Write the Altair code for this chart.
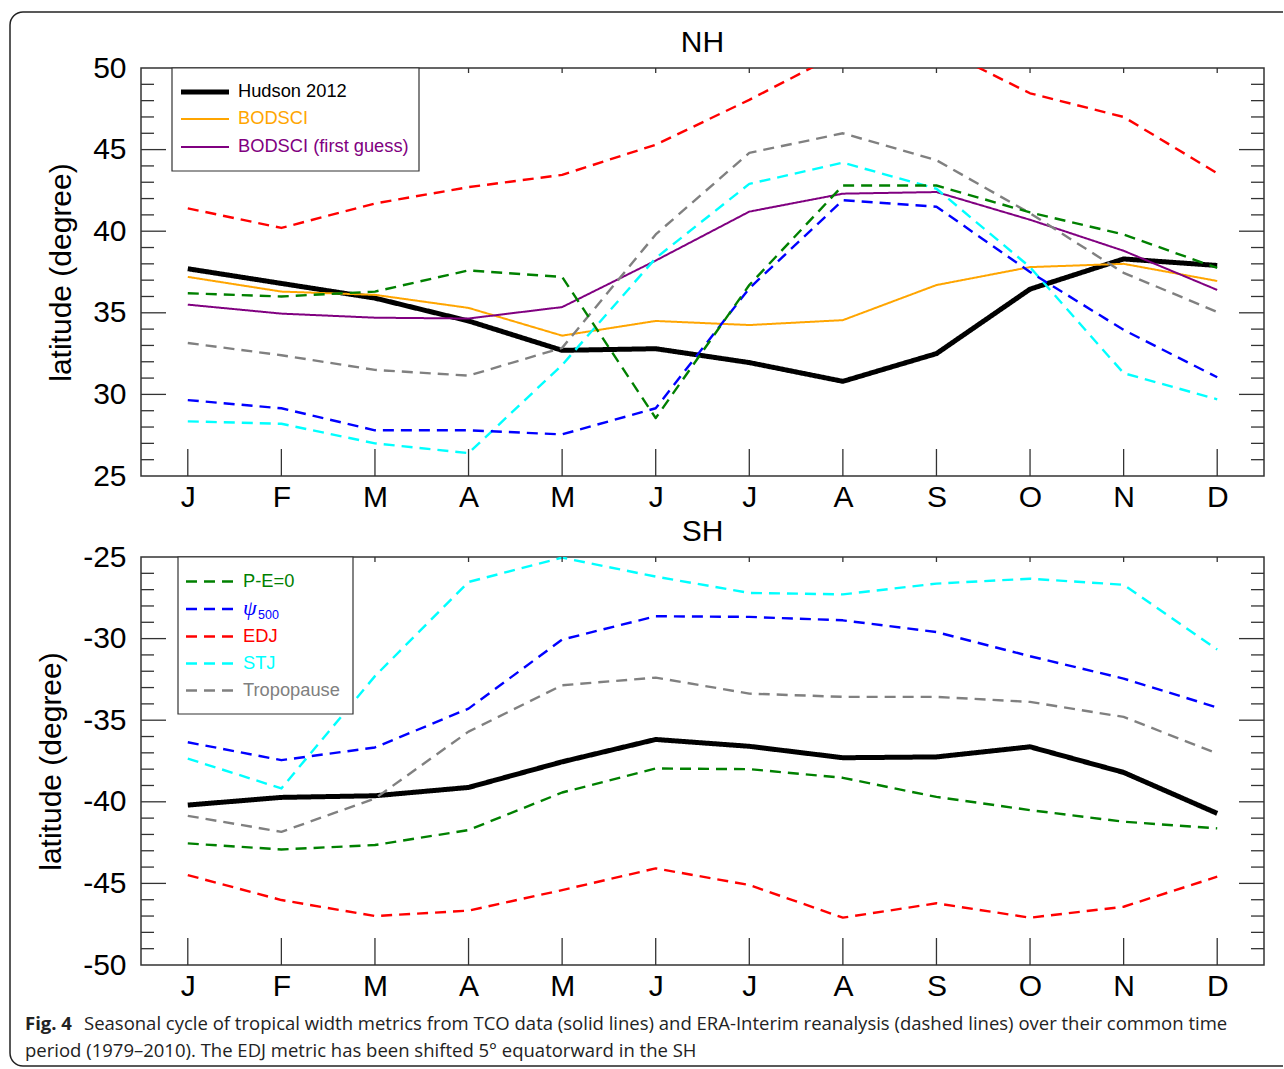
import altair as alt
import pandas as pd

# ---------------- data ----------------
months = list(range(1, 13))
month_letters = ["J", "F", "M", "A", "M", "J", "J", "A", "S", "O", "N", "D"]

# Northern Hemisphere
hudson_nh = [37.7, 36.8, 35.9, 34.5, 32.7, 32.8, 31.95, 30.8, 32.5, 36.45, 38.3, 37.9]
bodsci_nh = [37.2, 36.3, 36.1, 35.3, 33.6, 34.5, 34.25, 34.55, 36.7, 37.8, 38.0, 36.95]
firstguess_nh = [35.5, 34.95, 34.7, 34.65, 35.35, 38.2, 41.2, 42.3, 42.4, 40.7, 38.8, 36.4]
pe_nh = [36.2, 36.0, 36.3, 37.6, 37.2, 28.55, 36.7, 42.8, 42.8, 41.15, 39.8, 37.75]
psi_nh = [29.65, 29.15, 27.8, 27.8, 27.55, 29.15, 36.5, 41.9, 41.5, 37.5, 33.95, 31.05]
edj_nh = [41.4, 40.2, 41.7, 42.7, 43.45, 45.3, 48.05, 51.0, 51.3, 48.45, 47.0, 43.55]
stj_nh = [28.35, 28.2, 27.0, 26.4, 31.8, 38.35, 42.9, 44.2, 42.6, 37.8, 31.3, 29.7]
trop_nh = [33.15, 32.4, 31.5, 31.15, 32.85, 39.8, 44.8, 46.0, 44.35, 41.1, 37.45, 35.05]

# Southern Hemisphere
hudson_sh = [-40.2, -39.73, -39.63, -39.12, -37.55, -36.18, -36.6, -37.3, -37.25, -36.63, -38.2, -40.71]
pe_sh = [-42.55, -42.92, -42.65, -41.73, -39.43, -37.96, -38.0, -38.53, -39.7, -40.51, -41.22, -41.63]
psi_sh = [-36.35, -37.45, -36.67, -34.29, -30.06, -28.63, -28.67, -28.88, -29.6, -31.08, -32.45, -34.22]
edj_sh = [-44.49, -46.02, -47.0, -46.67, -45.41, -44.08, -45.1, -47.1, -46.22, -47.1, -46.43, -44.59]
stj_sh = [-37.35, -39.18, -32.3, -26.53, -25.04, -26.2, -27.2, -27.29, -26.63, -26.33, -26.7, -30.67]
trop_sh = [-40.86, -41.84, -39.8, -35.7, -32.86, -32.39, -33.37, -33.57, -33.57, -33.88, -34.8, -37.04]

nh_y_labels = [25, 30, 35, 40, 45, 50]
sh_y_labels = [-50, -45, -40, -35, -30, -25]

nh_legend_labels = ["Hudson 2012", "BODSCI", "BODSCI (first guess)"]
sh_legend_labels = ["P-E=0", "ψ500", "EDJ", "STJ", "Tropopause"]

caption_bold = "Fig. 4"
caption_line1 = ("Seasonal cycle of tropical width metrics from TCO data (solid lines) and ERA-Interim "
                 "reanalysis (dashed lines) over their common time")
caption_line2 = "period (1979–2010). The EDJ metric has been shifted 5° equatorward in the SH"

# ---------------- styles ----------------
FONT = "Liberation Sans, Arial, Helvetica, sans-serif"
CAP_FONT = "Open Sans, Lato, sans-serif"
AX = "#333333"
DASH = [11, 7]
style = {
    "Hudson 2012": ("#000000", [1, 0], 5.0),
    "BODSCI": ("#FFA500", [1, 0], 2.0),
    "BODSCI (first guess)": ("#800080", [1, 0], 2.0),
    "P-E=0": ("#008000", DASH, 2.4),
    "ψ500": ("#0000FF", DASH, 2.4),
    "EDJ": ("#FF0000", DASH, 2.4),
    "STJ": ("#00FFFF", DASH, 2.4),
    "Tropopause": ("#808080", DASH, 2.4),
}

W, H = 1123, 408
label_expr = "[" + ",".join("'%s'" % m for m in month_letters) + "][datum.value - 1]"


def panel(series, domain, y_labels, title, legend_labels, box, rows, sym_x, txt_x):
    x_scale = alt.Scale(domain=[0.5, 12.5], nice=False, zero=False)
    y_scale = alt.Scale(domain=domain, nice=False, zero=False)
    x_axis = alt.Axis(values=months, labelExpr=label_expr, labelFontSize=30, labelPadding=6,
                      ticks=False, domain=False, grid=False, title=None, labelColor="black",
                      labelFont=FONT)
    y_axis = alt.Axis(values=y_labels, labelExpr="'' + datum.value", labelFontSize=30,
                      labelPadding=15, ticks=False, domain=False, grid=False,
                      title="latitude (degree)", titleFontSize=30, titleFontWeight="normal",
                      titlePadding=16, titleColor="black", labelColor="black",
                      labelFont=FONT, titleFont=FONT)

    def X():
        return alt.X("month:Q", scale=x_scale, axis=x_axis)

    def Y():
        return alt.Y("value:Q", scale=y_scale, axis=y_axis)

    layers = []
    for name, vals in series:
        col, dash, sw = style[name]
        df = pd.DataFrame({"month": months, "value": vals})
        layers.append(alt.Chart(df).mark_line(
            clip=True, color=col, strokeDash=dash, strokeWidth=sw, strokeCap="butt", strokeJoin="round"
        ).encode(x=X(), y=Y()))

    xt = pd.DataFrame({"month": months})
    layers.append(alt.Chart(xt).mark_rule(color=AX, strokeWidth=1.3).encode(
        x=X(), y=alt.value(H), y2=alt.value(H - 27)))
    layers.append(alt.Chart(xt).mark_rule(color=AX, strokeWidth=1.3).encode(
        x=X(), y=alt.value(0), y2=alt.value(5)))
    lo, hi = min(domain), max(domain)
    major = [v for v in y_labels if lo < v < hi]
    minor = [v for v in range(int(lo) + 1, int(hi)) if v not in major]
    for vals, ln in ((major, 25), (minor, 13)):
        yt = pd.DataFrame({"value": vals})
        layers.append(alt.Chart(yt).mark_rule(color=AX, strokeWidth=1.3).encode(
            y=Y(), x=alt.value(0), x2=alt.value(ln)))
        layers.append(alt.Chart(yt).mark_rule(color=AX, strokeWidth=1.3).encode(
            y=Y(), x=alt.value(W), x2=alt.value(W - ln)))

    # panel title
    layers.append(alt.Chart(pd.DataFrame({"t": [title]})).mark_text(
        align="center", baseline="alphabetic", fontSize=30, font=FONT, color="black").encode(
        x=alt.value(W / 2), y=alt.value(-16), text="t:N"))

    # legend
    one = pd.DataFrame({"k": [0]})
    layers.append(alt.Chart(one).mark_rect(fill="white", stroke=AX, strokeWidth=1.2).encode(
        x=alt.value(box[0]), x2=alt.value(box[1]), y=alt.value(box[2]), y2=alt.value(box[3])))
    for lab, ry in zip(legend_labels, rows):
        col, dash, sw = style[lab]
        layers.append(alt.Chart(one).mark_rule(color=col, strokeDash=dash, strokeWidth=sw, strokeCap="butt").encode(
            x=alt.value(sym_x[0]), x2=alt.value(sym_x[1]), y=alt.value(ry)))
        if lab == "ψ500":
            layers.append(alt.Chart(pd.DataFrame({"t": [lab[0]]})).mark_text(
                align="left", baseline="middle", fontSize=22, font="Liberation Serif, DejaVu Serif, serif",
                fontStyle="italic", color=col).encode(
                x=alt.value(txt_x), y=alt.value(ry - 1), text="t:N"))
            layers.append(alt.Chart(pd.DataFrame({"t": [lab[1:]]})).mark_text(
                align="left", baseline="middle", fontSize=12.5, font=FONT, color=col).encode(
                x=alt.value(txt_x + 15), y=alt.value(ry + 6), text="t:N"))
        else:
            layers.append(alt.Chart(pd.DataFrame({"t": [lab]})).mark_text(
                align="left", baseline="middle", fontSize=18.3, font=FONT, color=col).encode(
                x=alt.value(txt_x), y=alt.value(ry), text="t:N"))

    return alt.layer(*layers).properties(
        width=W, height=H,
        view=alt.ViewBackground(stroke=AX, strokeWidth=1.5, strokeOpacity=1),
    )


nh = panel([("Hudson 2012", hudson_nh), ("BODSCI", bodsci_nh), ("BODSCI (first guess)", firstguess_nh),
            ("Tropopause", trop_nh), ("STJ", stj_nh), ("EDJ", edj_nh), ("ψ500", psi_nh), ("P-E=0", pe_nh)],
           [25, 50], nh_y_labels, "NH", nh_legend_labels,
           box=(31, 278, 0, 103), rows=[24, 51, 79], sym_x=(40, 88), txt_x=97)

sh = panel([("Hudson 2012", hudson_sh), ("Tropopause", trop_sh), ("STJ", stj_sh), ("EDJ", edj_sh),
            ("ψ500", psi_sh), ("P-E=0", pe_sh)],
           [-50, -25], sh_y_labels, "SH", sh_legend_labels,
           box=(37, 212, 0, 157), rows=[24.5, 52, 79.5, 106.5, 133.5], sym_x=(45, 93), txt_x=102)

# caption + frame (origin of this view is at page (141, 1046))
one = pd.DataFrame({"k": [0]})
R = 13
FR = "#222222"
CS = 18.5
cap_layers = [
    alt.Chart(pd.DataFrame({"t": [caption_bold]})).mark_text(
        align="left", baseline="alphabetic", fontSize=CS, font=CAP_FONT, fontWeight="bold", color="#222").encode(
        x=alt.value(-116), y=alt.value(-16), text="t:N"),
    alt.Chart(pd.DataFrame({"t": [caption_line1]})).mark_text(
        align="left", baseline="alphabetic", fontSize=CS, font=CAP_FONT, color="#222").encode(
        x=alt.value(-57), y=alt.value(-16), text="t:N"),
    alt.Chart(pd.DataFrame({"t": [caption_line2]})).mark_text(
        align="left", baseline="alphabetic", fontSize=CS, font=CAP_FONT, color="#222").encode(
        x=alt.value(-116), y=alt.value(11), text="t:N"),
    # frame
    alt.Chart(one).mark_rule(color=FR, strokeWidth=1.5).encode(
        x=alt.value(-131 + R), x2=alt.value(1142), y=alt.value(-1034)),
    alt.Chart(one).mark_rule(color=FR, strokeWidth=1.5).encode(
        x=alt.value(-131 + R), x2=alt.value(1142), y=alt.value(20)),
    alt.Chart(one).mark_rule(color=FR, strokeWidth=1.5).encode(
        x=alt.value(-131), y=alt.value(-1034 + R), y2=alt.value(20 - R)),
    alt.Chart(one).mark_arc(radius=R + 0.75, radius2=R - 0.75, theta=4.712389, theta2=6.283185, color=FR).encode(
        x=alt.value(-131 + R), y=alt.value(-1034 + R)),
    alt.Chart(one).mark_arc(radius=R + 0.75, radius2=R - 0.75, theta=3.141593, theta2=4.712389, color=FR).encode(
        x=alt.value(-131 + R), y=alt.value(20 - R)),
]
cap = alt.layer(*cap_layers).properties(width=W, height=10, view=alt.ViewBackground(strokeOpacity=0))

chart = alt.vconcat(nh, sh, cap, spacing=81, bounds="flush").properties(
    padding={"left": 9, "top": 11, "right": 0, "bottom": 0}
).configure(font=FONT)

chart.save("out.html", embed_options={"renderer": "svg", "actions": False})
